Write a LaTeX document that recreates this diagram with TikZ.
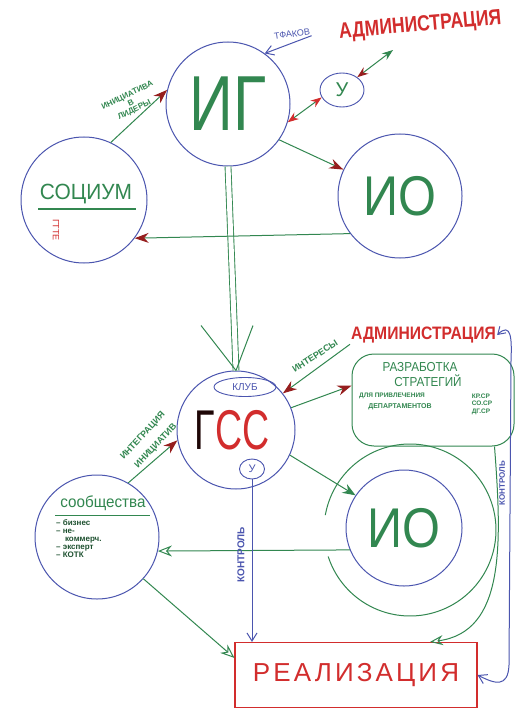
\documentclass[tikz,border=0pt]{standalone}
\usepackage{fontspec}
\setmainfont{Liberation Sans}
\usepackage{graphicx}
\usetikzlibrary{arrows.meta,shapes.geometric,calc}
\definecolor{gr}{RGB}{50,135,80}
\definecolor{bl}{RGB}{75,85,175}
\definecolor{rd}{RGB}{210,45,45}
\definecolor{dr}{RGB}{150,30,30}
\newcommand{\fs}[1]{\fontsize{#1}{#1}\selectfont}
\begin{document}
\begin{tikzpicture}[x=1pt,y=-1pt,
  circ/.style={circle, draw=bl, line width=1pt, inner sep=0pt},
  oval/.style={ellipse, draw=bl, line width=0.9pt, inner sep=0pt},
  gline/.style={draw=gr, line width=1pt},
  bline/.style={draw=bl, line width=1pt},
  rhead/.style={-{Stealth[length=14pt,width=10pt,color=dr,fill=dr]}},
  ghead/.style={-{Stealth[length=14pt,width=11pt,open,color=gr]}},
  bhead/.style={-{Straight Barb[length=8pt,width=10pt,color=bl]}},
  lab/.style={font=\bfseries\fs{8}, text=gr, align=center, inner sep=0pt},
  big/.style={text=gr}]
\useasboundingbox (0,0) rectangle (516,714);
\fill[white] (0,0) rectangle (516,714);

% ---------- top part ----------
\node[circ, minimum size=124pt, big, font=\fs{78}] (IG) at (228,104) {\scalebox{0.78}[1]{ИГ}};
\node[oval, minimum width=44pt, minimum height=34pt, big, font=\fs{20}] (U1) at (342,90) {У};
\node[circ, minimum size=124pt, big, font=\fs{56}] (IOt) at (400,196) {\scalebox{0.87}[1]{ИО}};
\node[circ, minimum size=126pt] (soc) at (84,200) {};
\node[text=gr, font=\fs{22}, inner sep=0pt] (soctxt) at (86,194) {\scalebox{0.95}[1]{СОЦИУМ}};
\draw[gr, line width=1.2pt] (38,209) -- (136,209);
\node[text=rd, font=\fs{9}, rotate=-90, inner sep=0pt] (soce) at (56,230) {ГТТЕ};

\node[text=rd, font=\bfseries\fs{22}, rotate=5, anchor=west, inner sep=1pt] (AdmT) at (338,33) {\scalebox{0.8}[1]{АДМИНИСТРАЦИЯ}};
\coordinate (admT) at (393,50);
\node[text=bl, font=\fs{9}, rotate=8, inner sep=1pt] (tfak) at (292,34) {ТФАКОВ};

\draw[bline, bhead] (tfak.south east) -- (IG.54);
\draw[gline, {Stealth[length=11pt,width=8pt,color=rd,fill=rd]}-{Stealth[length=11pt,width=8pt,color=rd,fill=rd]}] (IG.-17) -- (U1.200);
\draw[gline, {Stealth[length=11pt,width=8pt,color=dr,fill=dr]}-{Stealth[length=11pt,width=8pt,color=gr,fill=gr]}] (U1.40) -- (admT);
\draw[gline, rhead] (soc.65) -- (IG.167);
\node[lab, rotate=26] (ini) at (131,103) {ИНИЦИАТИВА\\В\\ЛИДЕРЫ};
\draw[gline, rhead] (IG.-35) -- (IOt.155);

% double line IG -> GSS
\node[circ, minimum size=118pt] (GSS) at (236,430) {};
\draw[gr, line width=0.9pt, double=white, double distance=5pt] (IG.south) -- (GSS.north);
\draw[gr, line width=1pt] (GSS.north) -- +(-35,-45);
\draw[gr, line width=1pt] (GSS.north) -- +(17,-45);
\draw[gline, rhead] (IOt.217) -- (soc.-37);

% ---------- bottom part ----------
\node[font=\fs{56}, inner sep=0pt] (gsstxt) at (232,430) {\scalebox{0.67}[1]{\textcolor{black!80!dr}{Г}\textcolor{rd}{СС}}};
\node[oval, minimum width=62pt, minimum height=19pt, text=bl, font=\fs{10}] (KLUB) at (245,387) {КЛУБ};
\node[oval, minimum width=25pt, minimum height=20pt, text=bl, font=\fs{11}] (U2) at (252,469) {У};

\node[text=rd, font=\bfseries\fs{18}, anchor=west, inner sep=1pt] (AdmB) at (350,335) {\scalebox{0.87}[1]{АДМИНИСТРАЦИЯ}};

\node[draw=gr, line width=1pt, rounded corners=22pt, minimum width=162pt, minimum height=92pt] (strat) at (433,400) {};
\node[text=gr, font=\fs{13}, inner sep=0pt] (s1) at (420,367) {\scalebox{0.9}[1]{РАЗРАБОТКА}};
\node[text=gr, font=\fs{13}, inner sep=0pt] (s2) at (428,381) {\scalebox{0.9}[1]{СТРАТЕГИЙ}};
\node[text=gr, font=\bfseries\fs{6.5}, inner sep=0pt] (s3) at (392,396) {ДЛЯ ПРИВЛЕЧЕНИЯ};
\node[text=gr, font=\bfseries\fs{7}, inner sep=0pt] (s4) at (400,407) {ДЕПАРТАМЕНТОВ};
\node[text=gr, font=\bfseries\fs{6.5}, inner sep=0pt, align=left] (s5) at (482,404) {КР.СР\\[1pt]СО.СР\\[1pt]ДГ.СР};

\node[circ, minimum size=116pt, big, font=\fs{56}] (IOb) at (404,528) {\scalebox{0.87}[1]{ИО}};
\draw[gline, domain=190:522, samples=80, smooth] plot ({410+86*cos(\x)}, {530+86*sin(\x)});

\node[circ, minimum size=124pt] (soob) at (97,537) {};
\node[text=gr, font=\fs{16}, inner sep=0pt] (sobt) at (103,503) {\scalebox{0.95}[1]{сообщества}};
\draw[gr, line width=0.8pt] (55,515) -- (150,515);
\node[text=gr!60!black, font=\bfseries\fs{8}, anchor=north west, align=left, inner sep=0pt] (sobl) at (56,519) {– бизнес\\– не-\\\ \ \ \ коммерч.\\– эксперт\\– КОТК};

\node[draw=rd, line width=1.2pt, minimum width=242pt, minimum height=65pt, text=rd, font=\fs{26}] (real) at (356,675) {\addfontfeature{LetterSpace=12}РЕАЛИЗАЦИЯ};

% connectors bottom
\draw[gline, rhead] (AdmB.south west) -- (GSS.38);
\node[lab, font=\bfseries\fs{9}, rotate=33] (inter) at (315,356) {ИНТЕРЕСЫ};
\draw[gline, rhead] (GSS.22) -- (strat.170);
\draw[gline, rhead] (soob.60) -- (GSS.190);
\node[lab, font=\bfseries\fs{9}, rotate=47] (integ) at (143,436) {ИНТЕГРАЦИЯ};
\node[lab, font=\bfseries\fs{9}, rotate=47] (integ2) at (156,446) {ИНИЦИАТИВ};
\draw[gline, -{Stealth[length=13pt,width=10pt,color=gr,fill=gr]}] (GSS.-25) -- (IOb.146);
\draw[gline, ghead] (IOb.202) -- (soob.-13);
\draw[gline, ghead] (soob.-42) -- (real.172);
\draw[bline, bhead] (U2.south) -- (U2.south |- real.north);
\node[text=bl, font=\bfseries\fs{10}, rotate=90, inner sep=0pt] (k1) at (241,555) {КОНТРОЛЬ};
\draw[gline, -{Stealth[length=13pt,width=10pt,open,color=gr]}] ([xshift=-20pt]strat.south east) .. controls (502,545) and (505,632) .. ([xshift=74pt]real.north);
\draw[bline, {Straight Barb[length=7pt,width=9pt,color=bl]}-{Straight Barb[length=8pt,width=10pt,color=bl]}] (AdmB.east) .. controls (511,322) and (512,338) .. (511,360) -- (509,665) .. controls (508,688) and (495,684) .. (real.east);
\node[text=bl, font=\bfseries\fs{8}, rotate=90, inner sep=0pt] (k2) at (502,483) {КОНТРОЛЬ};
\end{tikzpicture}
\end{document}
